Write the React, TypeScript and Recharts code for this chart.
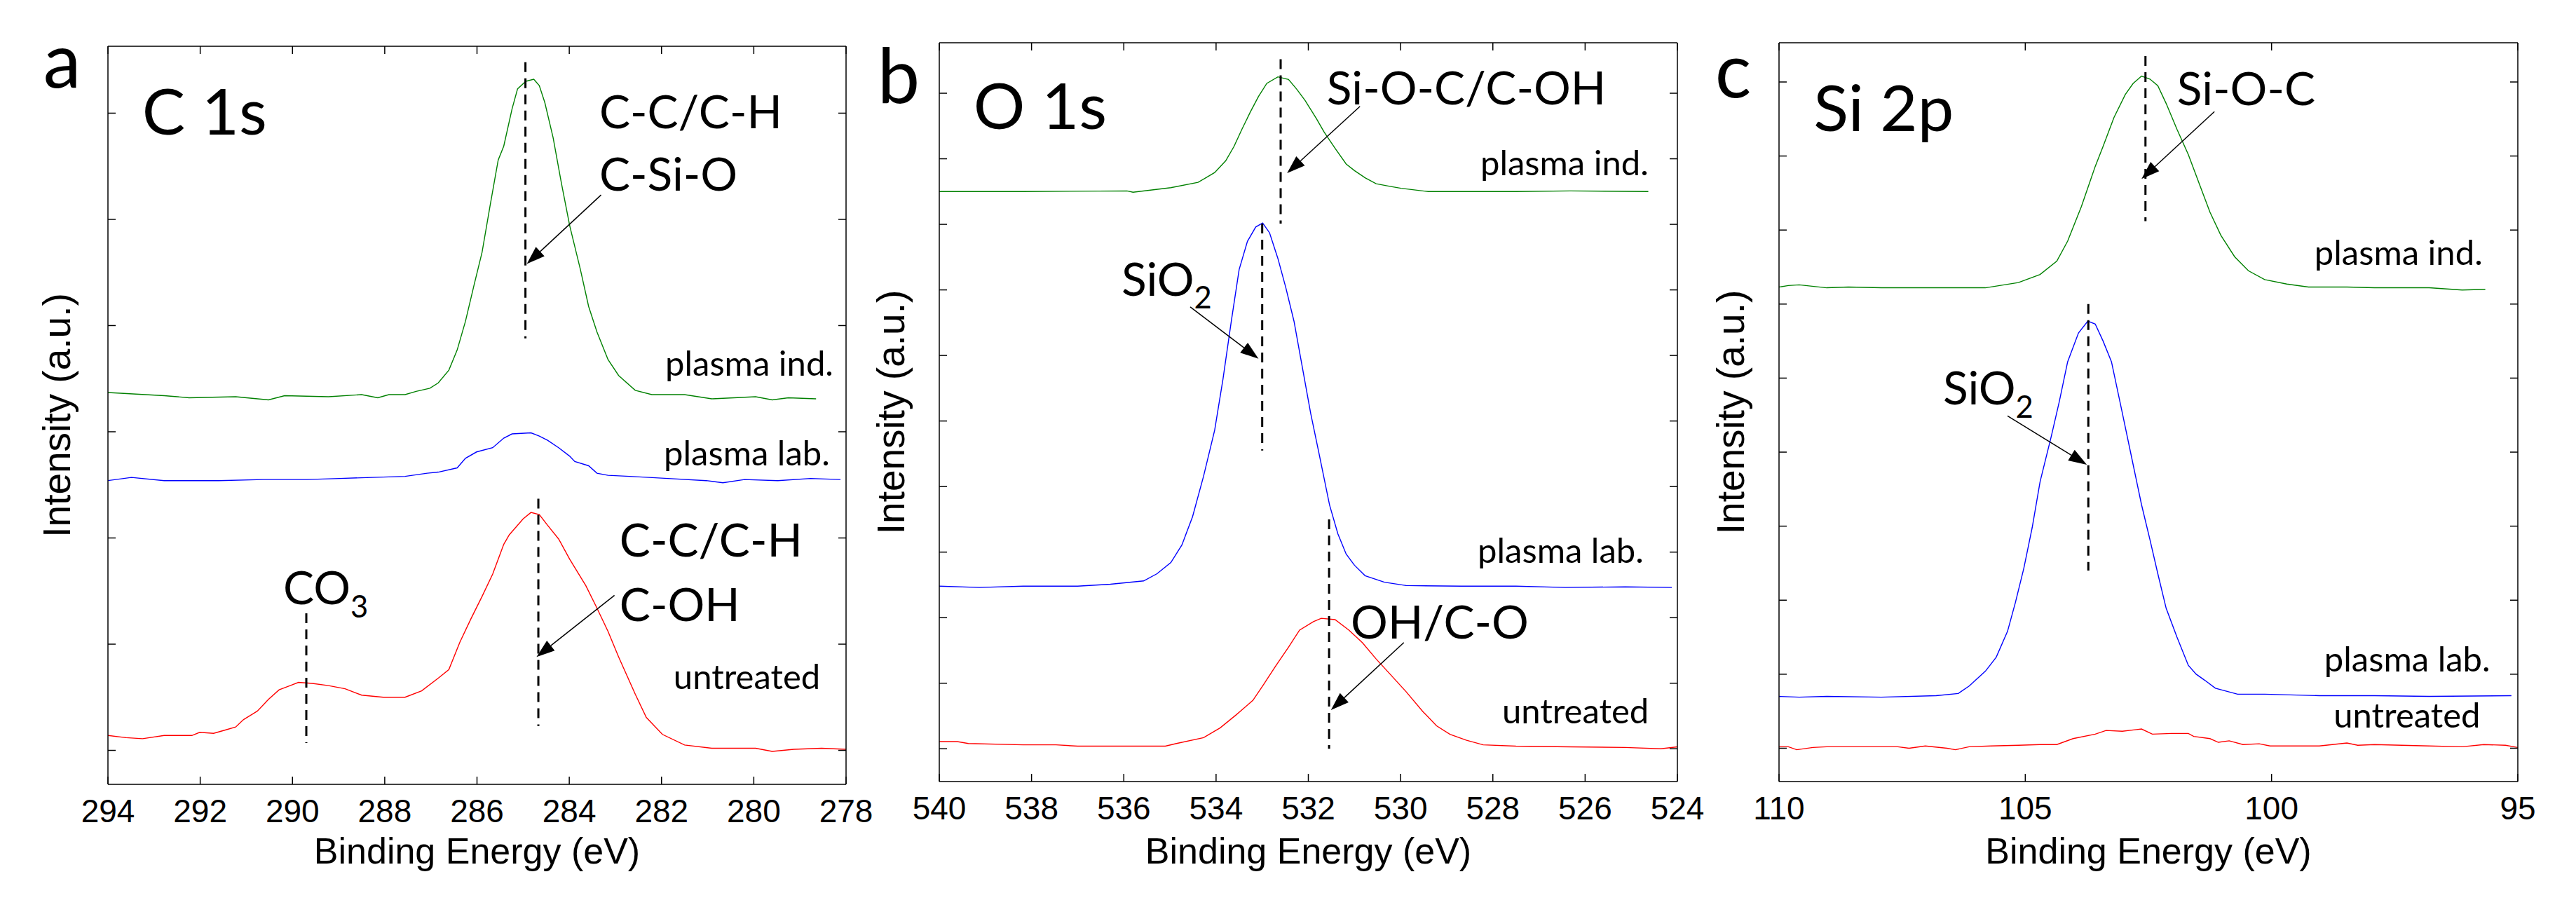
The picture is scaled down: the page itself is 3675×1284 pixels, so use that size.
import React from 'react';
import { LineChart, Line, XAxis, YAxis, ReferenceLine, ReferenceDot } from 'recharts';

type Pt = [number, number];

// ---------------- Panel a : C 1s ----------------
const c1sTicksX = [294, 292, 290, 288, 286, 284, 282, 280, 278];
const c1sTicksY = [0, 1, 2, 3, 4, 5, 6];
const c1sPlasmaInd: Pt[] = [
  [294.0, 3.37], [292.78, 3.34], [292.24, 3.32], [291.23, 3.33], [290.52, 3.3], [290.17, 3.34], [289.22, 3.33],
  [288.5, 3.35], [288.15, 3.32], [287.91, 3.35], [287.56, 3.35], [287.32, 3.38], [287.02, 3.41], [286.84, 3.46],
  [286.61, 3.58], [286.43, 3.77], [286.25, 4.04], [286.07, 4.37], [285.89, 4.69], [285.72, 5.12], [285.54, 5.56],
  [285.42, 5.69], [285.24, 6.04], [285.12, 6.23], [284.94, 6.3], [284.77, 6.32], [284.65, 6.26], [284.53, 6.1],
  [284.35, 5.77], [284.17, 5.34], [283.99, 4.94], [283.76, 4.53], [283.58, 4.18], [283.4, 3.94], [283.16, 3.68],
  [282.93, 3.53], [282.57, 3.39], [282.21, 3.35], [281.5, 3.35], [280.91, 3.31], [280.43, 3.32], [279.96, 3.33],
  [279.6, 3.3], [279.25, 3.32], [278.65, 3.31],
];
const c1sPlasmaLab: Pt[] = [
  [294.0, 2.54], [293.49, 2.57], [292.78, 2.54], [291.6, 2.54], [290.64, 2.55], [289.69, 2.55], [288.98, 2.56],
  [288.27, 2.57], [287.56, 2.58], [287.08, 2.61], [286.84, 2.62], [286.43, 2.66], [286.25, 2.75], [286.01, 2.81],
  [285.66, 2.85], [285.42, 2.94], [285.24, 2.98], [284.83, 2.99], [284.65, 2.96], [284.47, 2.92], [284.23, 2.85],
  [283.99, 2.77], [283.88, 2.72], [283.58, 2.68], [283.4, 2.61], [283.16, 2.59], [282.69, 2.58], [281.86, 2.56],
  [281.03, 2.54], [280.67, 2.52], [280.2, 2.55], [279.48, 2.54], [278.77, 2.56], [278.12, 2.55],
];
const c1sUntreated: Pt[] = [
  [294.0, 0.14], [293.61, 0.12], [293.25, 0.11], [292.78, 0.14], [292.18, 0.14], [292.01, 0.17], [291.71, 0.16],
  [291.47, 0.19], [291.23, 0.22], [291.06, 0.29], [290.76, 0.37], [290.52, 0.48], [290.29, 0.57], [290.05, 0.61],
  [289.87, 0.64], [289.57, 0.63], [289.22, 0.61], [288.86, 0.58], [288.5, 0.52], [288.03, 0.5], [287.56, 0.5],
  [287.2, 0.56], [286.84, 0.68], [286.61, 0.76], [286.37, 1.02], [286.13, 1.24], [285.89, 1.45], [285.66, 1.66],
  [285.42, 1.94], [285.3, 2.03], [285.0, 2.18], [284.83, 2.24], [284.65, 2.22], [284.47, 2.12], [284.23, 1.99],
  [283.99, 1.8], [283.64, 1.55], [283.4, 1.34], [283.16, 1.12], [282.93, 0.88], [282.57, 0.53], [282.33, 0.31],
  [281.98, 0.15], [281.5, 0.05], [280.91, 0.02], [279.96, 0.02], [279.6, -0.01], [279.13, 0.01], [278.53, 0.02],
  [278.0, 0.01],
];
// dashed markers: [energy, yTop, yBottom]
const c1sDashes = [[284.95, 6.48, 3.88], [284.67, 2.37, 0.23], [289.7, 1.29, 0.07]];
// arrows: [fromE, fromY, toE, toY]
const c1sArrows = [[283.31, 5.23, 284.92, 4.58], [283.02, 1.46, 284.71, 0.88]];

// ---------------- Panel b : O 1s ----------------
const o1sTicksX = [540, 538, 536, 534, 532, 530, 528, 526, 524];
const o1sTicksY = [0, 1, 2, 3, 4, 5, 6, 7, 8, 9, 10];
const o1sPlasmaInd: Pt[] = [
  [540, 8.5], [538.18, 8.5], [535.93, 8.51], [535.8, 8.49], [534.98, 8.56], [534.39, 8.64], [534.03, 8.79],
  [533.79, 8.97], [533.61, 9.19], [533.44, 9.45], [533.26, 9.71], [533.08, 9.95], [532.9, 10.15], [532.66, 10.25],
  [532.43, 10.21], [532.25, 10.06], [532.07, 9.89], [531.83, 9.62], [531.66, 9.41], [531.42, 9.16], [531.18, 8.92],
  [531.0, 8.82], [530.77, 8.71], [530.53, 8.62], [530.23, 8.58], [529.99, 8.55], [529.4, 8.5], [527.5, 8.5],
  [526.32, 8.51], [524.63, 8.5],
];
const o1sPlasmaLab: Pt[] = [
  [540, 2.48], [539.13, 2.46], [538.18, 2.48], [537.0, 2.48], [536.29, 2.51], [535.57, 2.56], [535.28, 2.67],
  [534.98, 2.84], [534.74, 3.11], [534.51, 3.54], [534.27, 4.16], [534.03, 4.86], [533.85, 5.64], [533.67, 6.52],
  [533.5, 7.31], [533.32, 7.74], [533.14, 7.96], [532.99, 8.02], [532.84, 7.87], [532.66, 7.48], [532.49, 7.04],
  [532.31, 6.52], [532.13, 5.82], [531.95, 5.12], [531.77, 4.51], [531.54, 3.72], [531.36, 3.28], [531.18, 2.97],
  [531.0, 2.8], [530.77, 2.64], [530.35, 2.54], [529.88, 2.49], [528.69, 2.48], [527.5, 2.48], [526.43, 2.46],
  [525.13, 2.47], [524.12, 2.46],
];
const o1sUntreated: Pt[] = [
  [540, 0.11], [539.61, 0.11], [539.37, 0.08], [538.18, 0.06], [537.47, 0.06], [537.0, 0.04], [536.05, 0.04],
  [535.1, 0.04], [534.86, 0.08], [534.27, 0.17], [533.91, 0.32], [533.56, 0.52], [533.2, 0.74], [532.96, 0.99],
  [532.72, 1.25], [532.43, 1.55], [532.19, 1.81], [531.89, 1.94], [531.72, 1.99], [531.42, 1.97], [531.12, 1.81],
  [530.83, 1.62], [530.53, 1.37], [530.23, 1.14], [529.88, 0.87], [529.52, 0.57], [529.22, 0.35], [528.93, 0.22],
  [528.57, 0.13], [528.21, 0.06], [527.5, 0.04], [526.32, 0.03], [525.13, 0.02], [524.36, 0.0], [524.0, 0.03],
];
const o1sDashes = [[532.6, 10.52, 8.01], [533.0, 8.01, 4.55], [531.55, 3.5, 0.0]];
const o1sArrows = [[530.88, 9.8, 532.46, 8.78], [534.56, 6.74, 533.08, 5.95], [529.93, 1.62, 531.51, 0.59]];

// ---------------- Panel c : Si 2p ----------------
const si2pTicksX = [110, 105, 100, 95];
const si2pTicksY = [0, 1, 2, 3, 4, 5, 6, 7, 8, 9];
const si2pPlasmaInd: Pt[] = [
  [110, 6.23], [109.81, 6.25], [109.59, 6.26], [109.03, 6.22], [108.59, 6.23], [107.92, 6.22], [106.81, 6.22],
  [105.81, 6.22], [105.14, 6.29], [104.7, 6.4], [104.36, 6.58], [104.14, 6.85], [103.86, 7.32], [103.58, 7.86],
  [103.42, 8.13], [103.2, 8.52], [102.97, 8.83], [102.81, 8.98], [102.64, 9.08], [102.47, 9.04], [102.31, 8.95],
  [102.14, 8.71], [101.92, 8.36], [101.69, 8.02], [101.47, 7.63], [101.25, 7.24], [101.03, 6.93], [100.75, 6.64],
  [100.47, 6.45], [100.14, 6.33], [99.69, 6.27], [99.25, 6.23], [98.47, 6.23], [97.91, 6.22], [96.8, 6.22],
  [96.13, 6.19], [95.66, 6.2],
];
const si2pPlasmaLab: Pt[] = [
  [110, 0.7], [109.59, 0.69], [109.03, 0.7], [107.92, 0.69], [106.81, 0.71], [106.36, 0.74], [106.14, 0.84],
  [105.81, 1.04], [105.59, 1.23], [105.36, 1.58], [105.2, 1.97], [105.03, 2.43], [104.86, 2.98], [104.7, 3.6],
  [104.47, 4.22], [104.31, 4.68], [104.14, 5.22], [103.92, 5.61], [103.73, 5.77], [103.58, 5.73], [103.42, 5.5],
  [103.25, 5.22], [103.03, 4.53], [102.81, 3.83], [102.64, 3.29], [102.47, 2.82], [102.31, 2.36], [102.14, 1.89],
  [101.92, 1.5], [101.69, 1.12], [101.53, 1.0], [101.36, 0.92], [101.14, 0.81], [100.69, 0.73], [100.14, 0.73],
  [99.03, 0.71], [97.91, 0.71], [96.8, 0.7], [95.13, 0.71],
];
const si2pUntreated: Pt[] = [
  [110, 0.02], [109.81, 0.02], [109.64, -0.02], [109.31, 0.01], [109.03, 0.02], [108.37, 0.02], [107.59, 0.02],
  [107.36, 0.0], [107.03, 0.03], [106.59, 0.0], [106.42, -0.02], [106.14, 0.02], [105.7, 0.03], [105.14, 0.04],
  [104.7, 0.05], [104.36, 0.05], [104.03, 0.13], [103.58, 0.19], [103.36, 0.24], [103.03, 0.23], [102.64, 0.26],
  [102.42, 0.19], [102.03, 0.2], [101.69, 0.2], [101.58, 0.16], [101.25, 0.13], [101.08, 0.08], [100.86, 0.1],
  [100.58, 0.05], [100.25, 0.06], [100.03, 0.03], [99.03, 0.03], [98.47, 0.07], [98.25, 0.04], [97.91, 0.05],
  [96.8, 0.03], [96.13, 0.02], [95.69, 0.05], [95.25, 0.04], [95.0, 0.01],
];
const si2pDashes = [[102.56, 9.35, 7.12], [103.72, 6.0, 2.4]];
const si2pArrows = [[101.16, 8.6, 102.64, 7.69], [105.36, 4.49, 103.75, 3.83]];

// ---------------- styles ----------------
const FONT_LABEL = 'Lato, "Open Sans", sans-serif';
const FONT_AXIS = '"Liberation Sans", Arial, sans-serif';
const GREEN = '#008000';
const BLUE = '#0000ff';
const RED = '#ff0000';
const TICK = 11;
const AX = { stroke: '#000', strokeWidth: 1.5 };
const ROLE_SIZE: Record<string, number> = { letter: 108, title: 92, big: 66, small: 49 };

type Lbl = { text: string; sub?: string; x: number; y: number; role: string };

const c1sLabels: Lbl[] = [
  { text: 'a', x: 295.4, y: 6.24, role: 'letter' },
  { text: 'C 1s', x: 293.26, y: 5.8, role: 'title' },
  { text: 'C-C/C-H', x: 283.35, y: 5.86, role: 'big' },
  { text: 'C-Si-O', x: 283.35, y: 5.27, role: 'big' },
  { text: 'plasma ind.', x: 281.92, y: 3.53, role: 'small' },
  { text: 'plasma lab.', x: 281.95, y: 2.68, role: 'small' },
  { text: 'C-C/C-H', x: 282.91, y: 1.825, role: 'big' },
  { text: 'C-OH', x: 282.91, y: 1.218, role: 'big' },
  { text: 'CO', sub: '3', x: 290.2, y: 1.376, role: 'big' },
  { text: 'untreated', x: 281.74, y: 0.578, role: 'small' },
];
const o1sLabels: Lbl[] = [
  { text: 'b', x: 541.34, y: 9.85, role: 'letter' },
  { text: 'O 1s', x: 539.26, y: 9.45, role: 'title' },
  { text: 'Si-O-C/C-OH', x: 531.6, y: 9.83, role: 'big' },
  { text: 'plasma ind.', x: 528.27, y: 8.75, role: 'small' },
  { text: 'SiO', sub: '2', x: 536.05, y: 6.91, role: 'big' },
  { text: 'plasma lab.', x: 528.33, y: 2.836, role: 'small' },
  { text: 'OH/C-O', x: 531.08, y: 1.681, role: 'big' },
  { text: 'untreated', x: 527.8, y: 0.387, role: 'small' },
];
const si2pLabels: Lbl[] = [
  { text: 'c', x: 111.3, y: 8.79, role: 'letter' },
  { text: 'Si 2p', x: 109.3, y: 8.34, role: 'title' },
  { text: 'Si-O-C', x: 101.92, y: 8.69, role: 'big' },
  { text: 'plasma ind.', x: 99.13, y: 6.53, role: 'small' },
  { text: 'SiO', sub: '2', x: 106.67, y: 4.64, role: 'big' },
  { text: 'plasma lab.', x: 98.93, y: 1.036, role: 'small' },
  { text: 'untreated', x: 98.74, y: 0.279, role: 'small' },
];

interface PanelDef {
  left: number;
  width: number;
  margin: { top: number; right: number; bottom: number; left: number };
  xDomain: [number, number];
  xTicks: number[];
  yDomain: [number, number];
  yTicks: number[];
  series: { data: Pt[]; color: string }[];
  dashes: number[][];
  arrows: number[][];
  labels: Lbl[];
  yTitleDx: number;
  xTitleDy: number;
}

// margins already account for the 1px axis bands on every side
const panels: PanelDef[] = [
  {
    left: 0, width: 1265, margin: { top: 65, right: 57, bottom: 164, left: 153 },
    xDomain: [278, 294], xTicks: c1sTicksX, yDomain: [-0.32, 6.63], yTicks: c1sTicksY,
    series: [{ data: c1sPlasmaInd, color: GREEN }, { data: c1sPlasmaLab, color: BLUE }, { data: c1sUntreated, color: RED }],
    dashes: c1sDashes, arrows: c1sArrows, labels: c1sLabels, yTitleDx: -53, xTitleDy: 113,
  },
  {
    left: 1225, width: 1225, margin: { top: 60, right: 56, bottom: 168, left: 114 },
    xDomain: [524, 540], xTicks: o1sTicksX, yDomain: [-0.5, 10.77], yTicks: o1sTicksY,
    series: [{ data: o1sPlasmaInd, color: GREEN }, { data: o1sPlasmaLab, color: BLUE }, { data: o1sUntreated, color: RED }],
    dashes: o1sDashes, arrows: o1sArrows, labels: o1sLabels, yTitleDx: -49, xTitleDy: 117,
  },
  {
    left: 2400, width: 1275, margin: { top: 60, right: 82, bottom: 168, left: 137 },
    xDomain: [95, 110], xTicks: si2pTicksX, yDomain: [-0.45, 9.53], yTicks: si2pTicksY,
    series: [{ data: si2pPlasmaInd, color: GREEN }, { data: si2pPlasmaLab, color: BLUE }, { data: si2pUntreated, color: RED }],
    dashes: si2pDashes, arrows: si2pArrows, labels: si2pLabels, yTitleDx: -49, xTitleDy: 117,
  },
];

const toRows = (pts: Pt[]) => pts.map(([x, y]) => ({ x, y }));

const BottomTick = (p: any) => (
  <g>
    <line x1={p.x} y1={p.y} x2={p.x} y2={p.y - TICK} stroke="#000" strokeWidth={1.5} />
    <text x={p.x} y={p.y + 54} textAnchor="middle" fontFamily={FONT_AXIS} fontSize={46} fill="#000">
      {p.payload.value}
    </text>
  </g>
);
const TopTick = (p: any) => <line x1={p.x} y1={p.y} x2={p.x} y2={p.y + TICK} stroke="#000" strokeWidth={1.5} />;
const LeftTick = (p: any) => <line x1={p.x} y1={p.y} x2={p.x + TICK} y2={p.y} stroke="#000" strokeWidth={1.5} />;
const RightTick = (p: any) => <line x1={p.x} y1={p.y} x2={p.x - TICK} y2={p.y} stroke="#000" strokeWidth={1.5} />;

const XTitle = (props: any) => {
  const vb = props.viewBox || { x: 0, y: 0, width: 0, height: 0 };
  return (
    <text x={vb.x + vb.width / 2} y={vb.y + props.dy} textAnchor="middle" fontFamily={FONT_AXIS} fontSize={52} fill="#000">
      Binding Energy (eV)
    </text>
  );
};
const YTitle = (props: any) => {
  const vb = props.viewBox || { x: 0, y: 0, width: 0, height: 0 };
  const cx = vb.x + props.dx;
  const cy = vb.y + vb.height / 2;
  return (
    <text x={cx} y={cy} transform={`rotate(-90, ${cx}, ${cy})`} textAnchor="middle" fontFamily={FONT_AXIS} fontSize={55} fill="#000">
      Intensity (a.u.)
    </text>
  );
};

const Arrow = (p: any) => {
  const { x1, y1, x2, y2 } = p;
  const dx = x2 - x1;
  const dy = y2 - y1;
  const len = Math.sqrt(dx * dx + dy * dy) || 1;
  const ux = dx / len;
  const uy = dy / len;
  const hl = 26;
  const hw = 9;
  const bx = x2 - ux * hl;
  const by = y2 - uy * hl;
  return (
    <g>
      <line x1={x1} y1={y1} x2={bx} y2={by} stroke="#000" strokeWidth={1.5} />
      <polygon points={`${x2},${y2} ${bx - uy * hw},${by + ux * hw} ${bx + uy * hw},${by - ux * hw}`} fill="#000" />
    </g>
  );
};

const makeLabel = (l: Lbl) => (p: any) => {
  const fs = ROLE_SIZE[l.role];
  return (
    <text x={p.cx} y={p.cy} fontFamily={FONT_LABEL} fontSize={fs} fill="#000">
      <tspan>{l.text}</tspan>
      {l.sub ? (
        <tspan dy={fs * 0.28} fontSize={fs * 0.66}>
          {l.sub}
        </tspan>
      ) : null}
    </text>
  );
};

function Panel({ def }: { def: PanelDef }) {
  return (
    <div style={{ position: 'absolute', left: def.left, top: 0 }}>
      <LineChart width={def.width} height={1284} margin={def.margin}>
        <XAxis xAxisId="b" type="number" dataKey="x" domain={def.xDomain} ticks={def.xTicks} reversed allowDataOverflow
          orientation="bottom" height={1} tickSize={0} tickMargin={0} interval={0} axisLine={AX} tickLine={false}
          tick={BottomTick} label={<XTitle dy={def.xTitleDy} />} />
        <XAxis xAxisId="t" type="number" dataKey="x" domain={def.xDomain} ticks={def.xTicks} reversed allowDataOverflow
          orientation="top" height={1} tickSize={0} tickMargin={0} interval={0} axisLine={AX} tickLine={false}
          tick={TopTick} />
        <YAxis yAxisId="l" type="number" domain={def.yDomain} ticks={def.yTicks} allowDataOverflow orientation="left"
          width={1} tickSize={0} tickMargin={0} interval={0} axisLine={AX} tickLine={false} tick={LeftTick}
          label={<YTitle dx={def.yTitleDx} />} />
        <YAxis yAxisId="r" type="number" domain={def.yDomain} ticks={def.yTicks} allowDataOverflow orientation="right"
          width={1} tickSize={0} tickMargin={0} interval={0} axisLine={AX} tickLine={false} tick={RightTick} />
        {def.series.map((s, i) => (
          <Line key={i} xAxisId="b" yAxisId="l" data={toRows(s.data)} dataKey="y" type="linear" stroke={s.color}
            strokeWidth={1.4} dot={false} activeDot={false} isAnimationActive={false} />
        ))}
        {def.dashes.map((d, i) => (
          <ReferenceLine key={`d${i}`} xAxisId="b" yAxisId="l" segment={[{ x: d[0], y: d[1] }, { x: d[0], y: d[2] }]}
            stroke="#000" strokeWidth={3} strokeDasharray="14 9" ifOverflow="visible" />
        ))}
        {def.arrows.map((a, i) => (
          <ReferenceLine key={`a${i}`} xAxisId="b" yAxisId="l" segment={[{ x: a[0], y: a[1] }, { x: a[2], y: a[3] }]}
            stroke="#000" ifOverflow="visible" shape={Arrow} />
        ))}
        {def.labels.map((l, i) => (
          <ReferenceDot key={`l${i}`} xAxisId="b" yAxisId="l" x={l.x} y={l.y} r={0} ifOverflow="visible"
            shape={makeLabel(l)} />
        ))}
      </LineChart>
    </div>
  );
}

export default function App() {
  return (
    <div style={{ position: 'absolute', left: 0, top: 0, width: 3675, height: 1284, background: '#fff' }}>
      {panels.map((p, i) => (
        <Panel key={i} def={p} />
      ))}
    </div>
  );
}
